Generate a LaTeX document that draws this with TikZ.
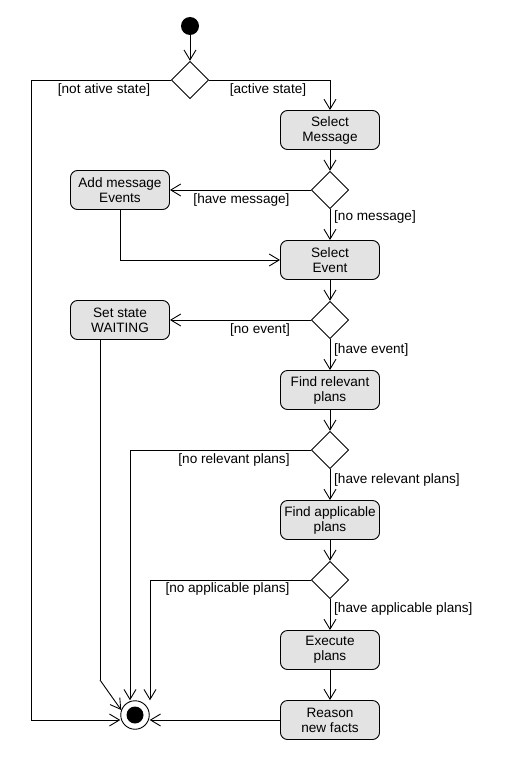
\documentclass[tikz,border=0pt]{standalone}
\usepackage{fontspec}
\setmainfont{Liberation Sans}
\usetikzlibrary{arrows.meta,shapes.geometric,calc}
\definecolor{actfill}{RGB}{227,227,227}
\begin{document}
\begin{tikzpicture}[x=1pt,y=-1pt,
  every node/.style={font=\fontsize{13.6}{15}\selectfont},
  action/.style={draw,rounded corners=7pt,fill=actfill,minimum width=99pt,
    minimum height=39pt,align=center,inner sep=1pt,line width=0.9pt},
  choice/.style={draw,diamond,shape aspect=1,minimum size=37.5pt,inner sep=0pt,
    line width=0.9pt},
  guard/.style={inner sep=0pt},
  flow/.style={line width=0.9pt,-{Straight Barb[length=10pt,width=12pt,line width=0.9pt]}},
  plain/.style={line width=0.9pt}]
\useasboundingbox (0,0) rectangle (510,760);

% initial and final nodes
\node[circle,fill=black,minimum size=18pt,inner sep=0pt] (start) at (190,26) {};
\node[circle,draw,line width=0.9pt,minimum size=28.5pt,inner sep=0pt] (final) at (135,715) {};
\node[circle,fill=black,minimum size=17pt,inner sep=0pt] at (final) {};

% decisions
\node[choice] (d1) at (190,80) {};
\node[choice] (d2) at (330,190) {};
\node[choice] (d3) at (330,320) {};
\node[choice] (d4) at (330,450) {};
\node[choice] (d5) at (330,580) {};

% actions
\node[action] (selmsg) at (330,130) {Select\\Message};
\node[action] (addmsg) at (120,190) {Add message\\Events};
\node[action] (selev) at (330,260) {Select\\Event};
\node[action] (waiting) at (120,320) {Set state\\WAITING};
\node[action] (findrel) at (330,390) {Find relevant\\plans};
\node[action] (findapp) at (330,520) {Find applicable\\plans};
\node[action] (exec) at (330,650) {Execute\\plans};
\node[action] (reason) at (330,720) {Reason\\new facts};

% bend points
\coordinate (lcorner) at (31,720);
\coordinate (wbend) at (100,680);

% control flow
\draw[flow] (start) -- (d1.north);
\draw[flow] (d1.east) -| (selmsg.north);
\draw[plain] (d1.west) -| (lcorner);
\draw[flow] (lcorner) -- (lcorner -| final.west);
\draw[flow] (selmsg.south) -- (d2.north);
\draw[flow] (d2.west) -- (addmsg.east);
\draw[flow] (d2.south) -- (selev.north);
\draw[flow] (addmsg.south) |- (selev.west);
\draw[flow] (selev.south) -- (d3.north);
\draw[flow] (d3.west) -- (waiting.east);
\draw[flow] (d3.south) -- (findrel.north);
\draw[plain] ([xshift=-20pt]waiting.south) -- (wbend);
\draw[flow] (wbend) -- (final.160);
\draw[flow] (findrel.south) -- (d4.north);
\draw[flow] (d4.west) -| ($(final.north)+(-5,0)$);
\draw[flow] (d4.south) -- (findapp.north);
\draw[flow] (findapp.south) -- (d5.north);
\draw[flow] (d5.west) -| ($(final.north)+(15,0)$);
\draw[flow] (d5.south) -- (exec.north);
\draw[flow] (exec.south) -- (reason.north);
\draw[flow] (reason.west) -- (reason.west -| final.east);

% guards
\node[guard] (g1) at (104,90) {[not ative state]};
\node[guard] (g2) at (268,90) {[active state]};
\node[guard] (g3) at (241.5,200) {[have message]};
\node[guard,anchor=west] (g4) at (334,217) {[no message]};
\node[guard] (g5) at (260,330) {[no event]};
\node[guard,anchor=west] (g6) at (334,350) {[have event]};
\node[guard] (g7) at (234,460) {[no relevant plans]};
\node[guard,anchor=west] (g8) at (334,480) {[have relevant plans]};
\node[guard] (g9) at (227.5,589) {[no applicable plans]};
\node[guard,anchor=west] (g10) at (334,609) {[have applicable plans]};
\end{tikzpicture}
\end{document}
